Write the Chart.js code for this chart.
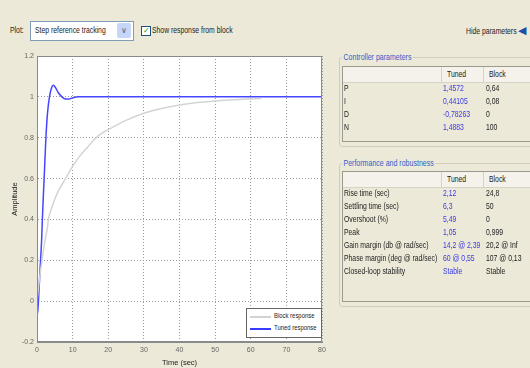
<!DOCTYPE html>
<html>
<head>
<meta charset="utf-8">
<script src="https://cdn.jsdelivr.net/npm/chart.js@4.4.1/dist/chart.umd.min.js"></script>
<style>
  body { margin: 0; background: #ece9d8; font-family: "Liberation Sans", Arial, sans-serif; font-size: 9px; color: #222; }
  #wrap { position: relative; width: 530px; height: 368px; overflow: hidden; }
  #plotWrap { position: absolute; left: 0; top: 0; width: 340px; height: 368px; }
  .abs { position: absolute; white-space: nowrap; }
  .t { position: absolute; white-space: nowrap; transform: scaleX(0.76); transform-origin: 0 0; }
  .blue { color: #3a3ae6; }
  .group { position: absolute; border: 1px solid #d0cdbf; border-radius: 3px; }
  .gtitle { position: absolute; color: #2f5fc8; background: #ece9d8; padding: 0 2px; font-size: 9.5px; white-space: nowrap; transform: scaleX(0.74); transform-origin: 0 0; }
  .tbl { position: absolute; border: 1px solid #9c9a8e; border-right: none; }
  .hdr { position: absolute; left: 0; right: 0; top: 0; height: 15px; background: #f4f2ea; border-bottom: 1px solid #d6d3c6; }
  .sep { position: absolute; top: 0; height: 15px; border-left: 1px solid #d6d3c6; }
</style>
</head>
<body>
<div id="wrap">
  <div class="t" style="left:10px;top:25px;">Plot:</div>
  <div class="abs" style="left:30px;top:21px;width:102px;height:18px;background:#fff;border:1px solid #7f9db9;"></div>
  <div class="t" style="left:35px;top:25px;">Step reference tracking</div>
  <div class="abs" style="left:117px;top:23px;width:14px;height:15px;background:#c6d6f7;border-radius:2px;color:#4d6185;text-align:center;font-size:8px;line-height:15px;">&#8744;</div>
  <div class="abs" style="left:141px;top:26px;width:8px;height:8px;background:#fff;border:1px solid #1c5180;color:#21a121;font-size:8px;line-height:8px;text-align:center;">&#10003;</div>
  <div class="t" style="left:152px;top:25px;">Show response from block</div>
  <div class="t" style="left:466px;top:26px;">Hide parameters</div>
  <div class="abs" style="left:518px;top:24px;color:#1f4fa8;font-size:11px;">&#9664;</div>

  <div id="plotWrap"><canvas id="chartCanvas" width="340" height="368"></canvas></div>

  <div class="abs" style="left:246px;top:308px;width:74px;height:28px;background:#fff;border:1px solid #666;"></div>
  <div class="abs" style="left:250px;top:316px;width:21px;height:2px;background:#d2d2d2;"></div>
  <div class="t" style="left:274px;top:311px;font-size:8px;transform:scaleX(0.74);">Block response</div>
  <div class="abs" style="left:250px;top:328px;width:21px;height:2px;background:#3b3bff;"></div>
  <div class="t" style="left:274px;top:323px;font-size:8px;transform:scaleX(0.74);">Tuned response</div>

  <!-- Controller parameters -->
  <div class="group" style="left:339px;top:57px;width:200px;height:88px;"></div>
  <div class="gtitle" style="left:342px;top:51px;">Controller parameters</div>
  <div class="tbl" style="left:342px;top:66px;width:200px;height:74px;">
    <div class="hdr"></div>
    <div class="sep" style="left:98px;"></div>
    <div class="sep" style="left:140px;"></div>
  </div>
  <div id="ctrl"></div>

  <!-- Performance and robustness -->
  <div class="group" style="left:339px;top:163px;width:200px;height:142px;"></div>
  <div class="gtitle" style="left:342px;top:157px;">Performance and robustness</div>
  <div class="tbl" style="left:342px;top:171px;width:200px;height:129px;">
    <div class="hdr"></div>
    <div class="sep" style="left:98px;"></div>
    <div class="sep" style="left:140px;"></div>
  </div>
  <div id="perf"></div>
</div>

<script>
// step response samples
const tunedTime = [0, 0.2, 0.4, 0.7, 1.0, 1.3, 1.5, 2.0, 2.5, 3.0, 3.5, 4.0, 4.6, 5.2, 6.0, 7.0, 8.0, 9.0, 10.0, 11.5, 20, 40, 60, 80];
const tunedValues = [-0.07, -0.05, 0.0, 0.1, 0.2, 0.3, 0.4, 0.6, 0.8, 0.93, 1.0, 1.04, 1.057, 1.045, 1.02, 1.0, 0.99, 0.99, 0.995, 1.0, 1.0, 1.0, 1.0, 1.0];
const blockTime = [0, 0.5, 1, 1.4, 2, 3, 3.2, 4, 5, 6, 8, 10, 12, 14, 16, 18, 20, 25, 30, 35, 40, 45, 50, 55, 60, 63];
const blockValues = [0, 0.08, 0.15, 0.2, 0.27, 0.37, 0.4, 0.45, 0.5, 0.54, 0.6, 0.66, 0.71, 0.75, 0.79, 0.82, 0.84, 0.885, 0.92, 0.943, 0.96, 0.972, 0.98, 0.986, 0.99, 0.992];
const xTicks = [0, 10, 20, 30, 40, 50, 60, 70, 80];
const yTicks = [-0.2, 0, 0.2, 0.4, 0.6, 0.8, 1, 1.2];

// parameter tables
const ctrlLabels = ["P", "I", "D", "N"];
const ctrlTuned = ["1,4572", "0,44105", "-0,78263", "1,4883"];
const ctrlBlock = ["0,64", "0,08", "0", "100"];
const perfLabels = ["Rise time (sec)", "Settling time (sec)", "Overshoot (%)", "Peak", "Gain margin (db @ rad/sec)", "Phase margin (deg @ rad/sec)", "Closed-loop stability"];
const perfTuned = ["2,12", "6,3", "5,49", "1,05", "14,2 @ 2,39", "60 @ 0,55", "Stable"];
const perfBlock = ["24,8", "50", "0", "0,999", "20,2 @ Inf", "107 @ 0,13", "Stable"];

function fillTable(id, top, labels, tuned, block) {
  const el = document.getElementById(id);
  let html = '<div class="t" style="left:447px;top:' + (top + 3) + 'px;">Tuned</div>' +
             '<div class="t" style="left:489px;top:' + (top + 3) + 'px;">Block</div>';
  labels.forEach((lab, i) => {
    const y = top + 17 + i * 13;
    html += '<div class="t" style="left:344px;top:' + y + 'px;">' + lab + '</div>';
    html += '<div class="t blue" style="left:443px;top:' + y + 'px;">' + tuned[i] + '</div>';
    html += '<div class="t" style="left:486px;top:' + y + 'px;">' + block[i] + '</div>';
  });
  el.innerHTML = html;
}
fillTable("ctrl", 66, ctrlLabels, ctrlTuned, ctrlBlock);
fillTable("perf", 171, perfLabels, perfTuned, perfBlock);

const plotBg = {
  id: "plotBg",
  beforeDraw(chart) {
    const { ctx, chartArea: a } = chart;
    ctx.save();
    ctx.fillStyle = "#fff";
    ctx.fillRect(a.left, a.top, a.right - a.left, a.bottom - a.top);
    ctx.restore();
  },
  afterDraw(chart) {
    const { ctx, chartArea: a } = chart;
    ctx.save();
    ctx.strokeStyle = "#8a8a8a";
    ctx.lineWidth = 1;
    ctx.strokeRect(a.left + 0.5, a.top + 0.5, a.right - a.left - 1, a.bottom - a.top - 1);
    ctx.restore();
  }
};

const tickFont = { family: "Liberation Sans, Arial", size: 7 };
const titleFont = { family: "Liberation Sans, Arial", size: 7.5 };

new Chart(document.getElementById("chartCanvas"), {
  type: "line",
  data: {
    datasets: [
      { label: "Block response", data: blockTime.map((t, i) => ({ x: t, y: blockValues[i] })), borderColor: "#d4d4d4", borderWidth: 1.5, pointRadius: 0, cubicInterpolationMode: "monotone" },
      { label: "Tuned response", data: tunedTime.map((t, i) => ({ x: t, y: tunedValues[i] })), borderColor: "#4646ff", borderWidth: 1.5, pointRadius: 0, cubicInterpolationMode: "monotone" }
    ]
  },
  options: {
    responsive: false,
    animation: false,
    events: [],
    layout: { padding: { left: 0, right: 18, top: 56, bottom: 0 } },
    plugins: { legend: { display: false }, tooltip: { enabled: false } },
    scales: {
      x: {
        type: "linear", min: 0, max: 80,
        afterFit(s) { s.height = 26; },
        afterBuildTicks(s) { s.ticks = xTicks.map(v => ({ value: v })); },
        grid: { color: "#9a9a9a", tickLength: 0, drawTicks: false },
        border: { display: true, color: "#8a8a8a", dash: [1, 2] },
        ticks: { color: "#666", font: tickFont, padding: 4, maxRotation: 0 },
        title: { display: true, text: "Time (sec)", color: "#222", font: titleFont, padding: { top: 0, bottom: 1 } }
      },
      y: {
        min: -0.2, max: 1.2,
        afterFit(s) { s.width = 37; },
        afterBuildTicks(s) { s.ticks = yTicks.map(v => ({ value: v })); },
        grid: { color: "#9a9a9a", drawTicks: false },
        border: { display: true, color: "#8a8a8a", dash: [1, 2] },
        ticks: { color: "#666", font: tickFont, padding: 3, callback: v => String(Math.round(v * 10) / 10) },
        title: { display: true, text: "Amplitude", color: "#222", font: titleFont, padding: { top: 10, bottom: 0 } }
      }
    }
  },
  plugins: [plotBg]
});
</script>
</body>
</html>
